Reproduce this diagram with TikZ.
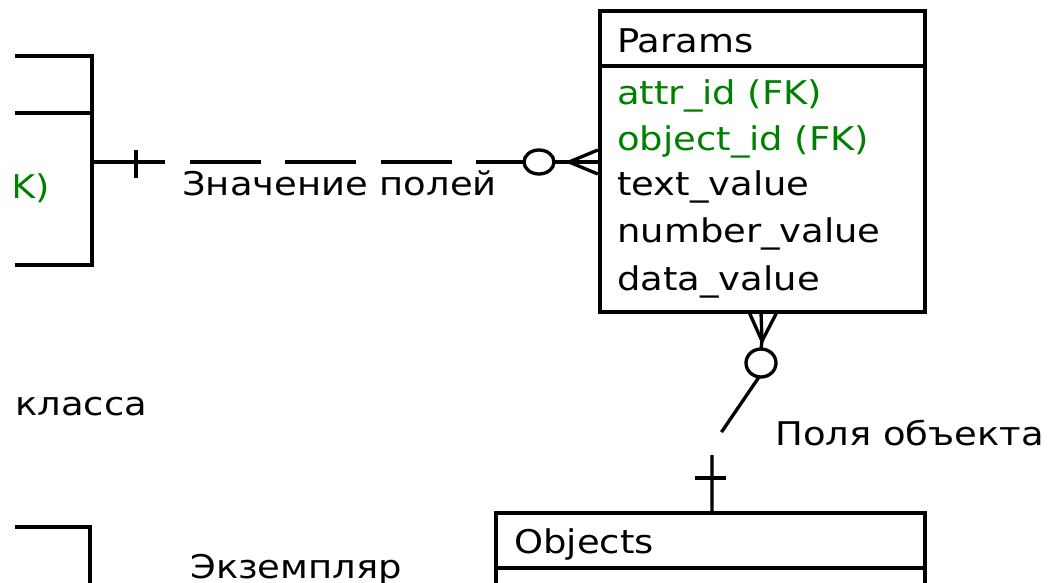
\documentclass[tikz,border=0pt]{standalone}
\usepackage{fontspec}
\setmainfont{DejaVu Sans}
\usetikzlibrary{fit}
\definecolor{fkgreen}{RGB}{0,128,0}
\newcommand{\wt}[1]{\scalebox{1.13}[1]{#1}}
\tikzset{
  entity/.style={draw, line width=3.3pt, inner sep=0pt, fit=#1},
  divider/.style={line width=2.6pt},
  lbl/.style={font=\fontsize{24.5}{28}\selectfont, inner sep=0pt, anchor=base west},
  fk/.style={lbl, text=fkgreen},
  rel/.style={line width=2.5pt},
  reldash/.style={rel, dash pattern=on 53.25pt off 18.4pt},
  reldashv/.style={rel, dash pattern=on 50pt off 19.5pt}
}
\begin{document}
\begin{tikzpicture}[x=0.75pt,y=-0.75pt]
\useasboundingbox (0,0) rectangle (1059,582);
\clip (15,0) rectangle (1059,582);

% ---- entity boxes ----
\coordinate (a1) at (-100,56); \coordinate (a2) at (92,265);
\node[entity={(a1)(a2)}] (leftA) {};
\draw[divider] (-100,113) -- (leftA.east |- 0,113);
\node[fk, anchor=base east] (leftAfk) at (50,198) {\wt{(FK)}};

\coordinate (b1) at (-100,527); \coordinate (b2) at (90,700);
\node[entity={(b1)(b2)}] (leftB) {};

\coordinate (p1) at (600,11); \coordinate (p2) at (925,312);
\node[entity={(p1)(p2)}] (params) {};
\draw[divider] (params.west |- 0,66) -- (params.east |- 0,66);
\node[lbl] (pt) at (617,52) {\wt{Params}};
\node[fk]  (pa1) at (617,104) {\wt{attr\_id (FK)}};
\node[fk]  (pa2) at (617,150) {\wt{object\_id (FK)}};
\node[lbl] (pa3) at (617,195) {\wt{text\_value}};
\node[lbl] (pa4) at (617,242) {\wt{number\_value}};
\node[lbl] (pa5) at (617,290) {\wt{data\_value}};

\coordinate (o1) at (496,513); \coordinate (o2) at (925,700);
\node[entity={(o1)(o2)}] (objects) {};
\draw[divider] (objects.west |- 0,568) -- (objects.east |- 0,568);
\node[lbl] (ot) at (514,553) {\wt{Objects}};

% ---- free labels ----
\node[lbl] (klassa) at (15,415) {\wt{класса}};
\node[lbl] (ekz) at (190,578) {\wt{Экземпляр}};

% ---- relationship: leftA -> params ----
\coordinate (h0) at (leftA.east |- 0,162);
\coordinate (hc) at (539,162);
\coordinate (hcw) at (524,162);
\coordinate (hce) at (554,162);
\coordinate (hf) at (569,162);
\draw[reldash] (h0) -- (hcw);
\draw[rel] (136,150) -- (136,178);
\draw[rel] (hc) ellipse [x radius=11.25pt, y radius=9pt];
\draw[rel] (hce) -- (hf);
\draw[rel] (hf) -- (params.west |- 0,150);
\draw[rel] (hf) -- (params.west |- 0,162);
\draw[rel] (hf) -- (params.west |- 0,174);
\node[lbl] (hl) at (182,195) {\wt{Значение полей}};

% ---- relationship: params -> objects ----
\coordinate (vf) at (762,341);
\coordinate (vc) at (761,363);
\coordinate (vcn) at (761,349);
\coordinate (vcs) at (759,377);
\coordinate (vk) at (712,446);
\draw[rel] (vf) -- (749,312);
\draw[rel] (vf) -- (761,312);
\draw[rel] (vf) -- (777,312);
\draw[rel] (vf) -- (vcn);
\draw[rel] (vc) ellipse [x radius=11.25pt, y radius=10.5pt];
\draw[reldashv] (vcs) -- (vk) -- (objects.north -| vk);
\draw[rel] (695,478) -- (726,478);
\node[lbl] (vl) at (775,445) {\wt{Поля объекта}};
\end{tikzpicture}
\end{document}
